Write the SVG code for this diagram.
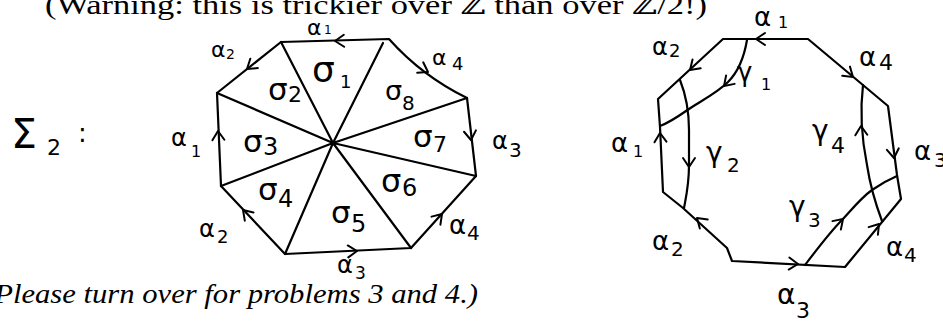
<svg xmlns="http://www.w3.org/2000/svg" xmlns:xlink="http://www.w3.org/1999/xlink" width="943" height="324" viewBox="0 0 943 324">
<defs>
<style>
.ln{fill:none;stroke:#000;stroke-width:2.2;stroke-linecap:round;stroke-linejoin:round}
.ah{fill:none;stroke:#000;stroke-width:2;stroke-linecap:round;stroke-linejoin:round}
.hw{font-family:"DejaVu Sans","Noto Sans",sans-serif;fill:#000}
.pr{font-family:"Liberation Serif","DejaVu Serif",serif;fill:#000}
</style>
<path id="a" d="M-9,-6 L0,0 L-9,6"/>
</defs>
<rect width="943" height="324" fill="#fff"/>

<g id="header">
<text class="pr" x="45" y="14" font-size="27" textLength="662" lengthAdjust="spacingAndGlyphs">(Warning: this is trickier over ℤ than over ℤ/2!)</text>
</g>
<g id="footer">
<text class="pr" x="-16" y="303" font-size="27" font-style="italic" textLength="494" lengthAdjust="spacingAndGlyphs">(Please turn over for problems 3 and 4.)</text>
</g>

<g id="sigma2-label">
<text class="hw" x="11" y="148" font-size="41">Σ<tspan x="47" y="155" font-size="22">2</tspan><tspan x="78" y="142" font-size="26">:</tspan></text>
</g>

<!-- Left octagon -->
<g id="left-octagon">
<path class="ln" d="M389,39 L281,42 L217,93 L221,186 L285,254 L411,248 L476,176 L467,98 Q422,76 389,39 Z"/>
<g id="left-diagonals">
<path class="ln" d="M333,143 L281,42 M333,143 L383,43 M333,143 L467,98 M333,143 L476,176 M333,143 L411,248 M333,143 L285,254 M333,143 L221,186 M333,143 L217,93"/>
</g>
<g id="left-arrows" class="ah">
<use xlink:href="#a" transform="translate(335,41) rotate(178.4)"/>
<use xlink:href="#a" transform="translate(247,69) rotate(141.4)"/>
<use xlink:href="#a" transform="translate(428,72) rotate(30)"/>
<use xlink:href="#a" transform="translate(471,140) rotate(83.4)"/>
<use xlink:href="#a" transform="translate(218,131) rotate(-92.5)"/>
<use xlink:href="#a" transform="translate(243,210) rotate(-133.3)"/>
<use xlink:href="#a" transform="translate(357,251) rotate(-2.7)"/>
<use xlink:href="#a" transform="translate(442,214) rotate(-47.9)"/>
</g>
<g id="left-labels" class="hw">
<text x="307" y="35" font-size="22">α<tspan x="324" y="34" font-size="12">1</tspan></text>
<text x="211" y="57" font-size="22">α<tspan x="226" y="59" font-size="14">2</tspan></text>
<text x="432" y="65" font-size="22">α<tspan x="452" y="70" font-size="18">4</tspan></text>
<text x="312" y="82" font-size="36">σ<tspan x="340" y="88" font-size="18">1</tspan></text>
<text x="268" y="100" font-size="31">σ<tspan x="288" y="102" font-size="22">2</tspan></text>
<text x="385" y="100" font-size="27">σ<tspan x="402" y="110" font-size="20">8</tspan></text>
<text x="243" y="152" font-size="31">σ<tspan x="263" y="155" font-size="24">3</tspan></text>
<text x="413" y="147" font-size="31">σ<tspan x="433" y="152" font-size="22">7</tspan></text>
<text x="258" y="200" font-size="31">σ<tspan x="278" y="207" font-size="24">4</tspan></text>
<text x="381" y="192" font-size="32">σ<tspan x="402" y="196" font-size="24">6</tspan></text>
<text x="331" y="223" font-size="31">σ<tspan x="351" y="232" font-size="24">5</tspan></text>
<text x="199" y="237" font-size="24">α<tspan x="217" y="243" font-size="18">2</tspan></text>
<text x="449" y="234" font-size="26">α<tspan x="467" y="240" font-size="20">4</tspan></text>
<text x="337" y="273" font-size="24">α<tspan x="355" y="279" font-size="17">3</tspan></text>
<text x="171" y="146" font-size="24">α<tspan x="191" y="157" font-size="16">1</tspan></text>
<text x="492" y="149" font-size="24">α<tspan x="509" y="157" font-size="20">3</tspan></text>
</g>
</g>

<!-- Right octagon -->
<g id="right-octagon">
<path class="ln" d="M723,39 L808,39 L888,106 L897,175 L901,199 L845,267 L732,261 L727,248 L683,208 L663,192 L660,127 L658,99 Z"/>
<g id="gamma-curves">
<path id="gamma1" class="ln" d="M747,40 C744,58 738,72 728,82 C716,94 697,103 686,111 C676,118 668,123 660,126"/>
<path id="gamma2" class="ln" d="M680,80 C686,95 689,110 689,130 L689,165 C689,185 686,197 684,208"/>
<path id="gamma4" class="ln" d="M863,85 C860,110 862,140 867,165 C870,185 876,205 882,221"/>
<path id="gamma3" class="ln" d="M805,265 C818,248 830,232 842,220 C853,208 862,197 872,190 C882,183 890,179 897,176"/>
</g>
<g id="right-arrows" class="ah">
<use xlink:href="#a" transform="translate(756,39) rotate(180)"/>
<use xlink:href="#a" transform="translate(690,70) rotate(137.3)"/>
<use xlink:href="#a" transform="translate(853,77) rotate(39.9)"/>
<use xlink:href="#a" transform="translate(894,158) rotate(82.6)"/>
<use xlink:href="#a" transform="translate(660,133) rotate(-93)"/>
<use xlink:href="#a" transform="translate(697,218) rotate(-138.8)"/>
<use xlink:href="#a" transform="translate(798,264) rotate(3)"/>
<use xlink:href="#a" transform="translate(879,224) rotate(-50.5)"/>
<use xlink:href="#a" transform="translate(724,86) rotate(135)"/>
<use xlink:href="#a" transform="translate(689,167) rotate(90)"/>
<use xlink:href="#a" transform="translate(861,126) rotate(-92)"/>
<use xlink:href="#a" transform="translate(843,219) rotate(-45)"/>
</g>
<g id="right-labels" class="hw">
<text x="754" y="26" font-size="26">α<tspan x="778" y="28" font-size="16">1</tspan></text>
<text x="652" y="55" font-size="24">α<tspan x="669" y="57" font-size="18">2</tspan></text>
<text x="737" y="81" font-size="26">γ<tspan x="761" y="90" font-size="16">1</tspan></text>
<text x="859" y="66" font-size="26">α<tspan x="879" y="70" font-size="22">4</tspan></text>
<text x="611" y="152" font-size="26">α<tspan x="633" y="157" font-size="16">1</tspan></text>
<text x="706" y="162" font-size="28">γ<tspan x="727" y="172" font-size="20">2</tspan></text>
<text x="812" y="140" font-size="28">γ<tspan x="831" y="153" font-size="22">4</tspan></text>
<text x="914" y="160" font-size="26">α<tspan x="934" y="167" font-size="20">3</tspan></text>
<text x="789" y="216" font-size="28">γ<tspan x="808" y="227" font-size="20">3</tspan></text>
<text x="652" y="250" font-size="26">α<tspan x="671" y="256" font-size="20">2</tspan></text>
<text x="886" y="256" font-size="26">α<tspan x="904" y="262" font-size="20">4</tspan></text>
<text x="777" y="304" font-size="28">α<tspan x="796" y="318" font-size="22">3</tspan></text>
</g>
</g>
</svg>
